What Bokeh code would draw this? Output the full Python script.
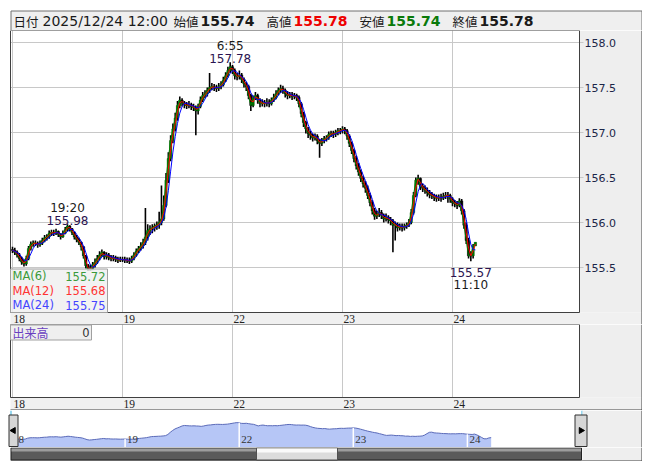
import numpy as np
import pandas as pd
from bokeh.plotting import figure
from bokeh.layouts import column
from bokeh.models import Range1d, ColumnDataSource
from bokeh.core.properties import value
from bokeh.embed import file_html
from bokeh.resources import INLINE

# ---------------- data (30-minute bars, 18th 7:00 -> 24th 12:00) ----------------
first_open = 155.70
close = [
    155.69, 155.67, 155.64, 155.60, 155.56, 155.54, 155.60, 155.71, 155.76, 155.77,
    155.77, 155.75, 155.77, 155.80, 155.83, 155.84, 155.88, 155.89, 155.88, 155.90,
    155.87, 155.84, 155.88, 155.92, 155.96, 155.93, 155.89, 155.84, 155.81, 155.78,
    155.73, 155.63, 155.52, 155.47, 155.49, 155.53, 155.56, 155.60, 155.64, 155.67,
    155.62, 155.64, 155.61, 155.60, 155.61, 155.59, 155.58, 155.59,
    155.59, 155.58, 155.58, 155.57, 155.60, 155.64, 155.68, 155.71, 155.74, 155.78,
    155.84, 155.91, 155.93, 155.94, 155.96, 155.97, 156.00, 156.04, 156.19, 156.47,
    156.71, 156.91, 157.04, 157.16, 157.30, 157.36, 157.33, 157.31, 157.30, 157.31,
    157.29, 157.28, 157.24, 157.29, 157.36, 157.41, 157.43, 157.47, 157.50, 157.51,
    157.50, 157.49, 157.51, 157.53, 157.58, 157.63, 157.69, 157.73,
    157.69, 157.63, 157.62, 157.64, 157.59, 157.54, 157.51, 157.41, 157.30, 157.38,
    157.41, 157.36, 157.32, 157.33, 157.32, 157.34, 157.32, 157.36, 157.39, 157.43,
    157.47, 157.49, 157.47, 157.43, 157.41, 157.42, 157.40, 157.41, 157.39, 157.32,
    157.21, 157.11, 157.04, 156.99, 156.97, 156.94, 156.96, 156.91, 156.88, 156.91,
    156.93, 156.94, 156.98, 156.99, 156.98, 157.00, 157.02, 157.02,
    157.04, 157.02, 156.96, 156.88, 156.80, 156.71, 156.63, 156.56, 156.49, 156.43,
    156.38, 156.30, 156.22, 156.13, 156.07, 156.09, 156.11, 156.08, 156.04, 156.06,
    156.03, 156.02, 155.97, 155.98, 155.94, 155.96, 155.94, 155.96, 155.97, 156.00,
    156.11, 156.30, 156.47, 156.49, 156.40, 156.38, 156.36, 156.33, 156.31, 156.30,
    156.28, 156.27, 156.28, 156.27, 156.29, 156.30, 156.30, 156.26,
    156.22, 156.21, 156.19, 156.24, 156.13, 155.97, 155.80, 155.63, 155.63, 155.74, 155.78,
]
high = [
    155.73, 155.72, 155.69, 155.66, 155.62, 155.59, 155.63, 155.74, 155.79, 155.80,
    155.80, 155.79, 155.80, 155.83, 155.86, 155.87, 155.91, 155.92, 155.92, 155.93,
    155.91, 155.88, 155.91, 155.95, 155.98, 155.97, 155.94, 155.90, 155.86, 155.83,
    155.79, 155.74, 155.64, 155.54, 155.53, 155.56, 155.60, 155.64, 155.68, 155.70,
    155.68, 155.67, 155.66, 155.64, 155.64, 155.63, 155.62, 155.62,
    155.62, 155.62, 155.61, 155.61, 155.63, 155.67, 155.71, 155.74, 155.78, 155.82,
    156.16, 155.98, 155.97, 155.98, 155.99, 156.01, 156.12, 156.41, 156.30, 156.55,
    156.78, 156.97, 157.10, 157.22, 157.35, 157.40, 157.38, 157.35, 157.34, 157.35,
    157.33, 157.32, 157.30, 157.32, 157.40, 157.45, 157.47, 157.50, 157.66, 157.55,
    157.54, 157.53, 157.55, 157.57, 157.62, 157.67, 157.73, 157.78,
    157.75, 157.71, 157.66, 157.69, 157.66, 157.61, 157.56, 157.53, 157.43, 157.41,
    157.45, 157.43, 157.38, 157.37, 157.36, 157.38, 157.37, 157.39, 157.43, 157.47,
    157.50, 157.53, 157.52, 157.49, 157.46, 157.45, 157.45, 157.44, 157.43, 157.41,
    157.34, 157.23, 157.13, 157.06, 157.02, 156.99, 156.99, 156.98, 156.93, 156.94,
    156.96, 156.97, 157.01, 157.02, 157.02, 157.03, 157.05, 157.05,
    157.07, 157.06, 157.04, 156.98, 156.90, 156.82, 156.74, 156.66, 156.59, 156.52,
    156.46, 156.41, 156.33, 156.25, 156.16, 156.13, 156.16, 156.14, 156.10, 156.10,
    156.08, 156.06, 156.04, 156.01, 156.00, 155.99, 155.99, 155.99, 156.00, 156.04,
    156.15, 156.34, 156.50, 156.53, 156.50, 156.43, 156.41, 156.39, 156.36, 156.34,
    156.32, 156.31, 156.31, 156.32, 156.33, 156.34, 156.34, 156.32,
    156.28, 156.25, 156.24, 156.27, 156.26, 156.15, 156.00, 155.83, 155.68, 155.76, 155.78,
]
low = [
    155.66, 155.64, 155.61, 155.57, 155.53, 155.51, 155.52, 155.58, 155.69, 155.73,
    155.74, 155.72, 155.73, 155.75, 155.78, 155.80, 155.82, 155.85, 155.85, 155.86,
    155.84, 155.81, 155.83, 155.87, 155.90, 155.90, 155.86, 155.81, 155.78, 155.75,
    155.69, 155.60, 155.49, 155.46, 155.46, 155.47, 155.50, 155.54, 155.58, 155.62,
    155.59, 155.59, 155.58, 155.57, 155.57, 155.56, 155.55, 155.56,
    155.56, 155.55, 155.55, 155.54, 155.55, 155.58, 155.62, 155.66, 155.69, 155.71,
    155.75, 155.80, 155.86, 155.88, 155.90, 155.92, 155.93, 155.97, 156.02, 156.17,
    156.44, 156.68, 156.88, 157.01, 157.13, 157.27, 157.29, 157.27, 157.26, 157.27,
    157.25, 157.24, 156.97, 157.20, 157.27, 157.34, 157.38, 157.40, 157.44, 157.47,
    157.46, 157.45, 157.46, 157.48, 157.51, 157.56, 157.61, 157.66,
    157.65, 157.59, 157.58, 157.59, 157.55, 157.50, 157.46, 157.37, 157.24, 157.28,
    157.36, 157.32, 157.28, 157.29, 157.28, 157.29, 157.28, 157.30, 157.34, 157.37,
    157.41, 157.44, 157.43, 157.39, 157.37, 157.38, 157.36, 157.37, 157.35, 157.28,
    157.17, 157.06, 156.99, 156.94, 156.92, 156.90, 156.91, 156.87, 156.72, 156.85,
    156.88, 156.90, 156.92, 156.95, 156.94, 156.95, 156.97, 156.98,
    156.99, 156.98, 156.92, 156.84, 156.76, 156.67, 156.59, 156.52, 156.45, 156.39,
    156.33, 156.26, 156.18, 156.09, 156.03, 156.04, 156.06, 156.04, 156.00, 156.01,
    155.99, 155.97, 155.67, 155.80, 155.90, 155.91, 155.90, 155.91, 155.93, 155.95,
    155.98, 156.09, 156.28, 156.42, 156.36, 156.34, 156.32, 156.29, 156.27, 156.26,
    156.24, 156.23, 156.24, 156.23, 156.25, 156.26, 156.22, 156.22,
    156.18, 156.17, 156.15, 156.17, 156.09, 155.93, 155.76, 155.60, 155.57, 155.60, 155.74,
]
bars_per_day = 48
day_ticks = [0, 1, 2, 3, 4]
day_labels = ["18", "19", "22", "23", "24"]
price_ticks = [155.5, 156.0, 156.5, 157.0, 157.5, 158.0]
ma_names = ["MA(6)", "MA(12)", "MA(24)"]
ma_windows = [1, 2, 4]          # in 30-minute bars
ma_values_text = ["155.72", "155.68", "155.75"]
header_date = "2025/12/24 12:00"
header_names = ["始値", "高値", "安値", "終値"]
marks = [("19:20", "high", 0), ("6:55", "high", 1), ("11:10", "low", 4)]
volume_name = "出来高"
volume_value = "0"

# ---------------- styles ----------------
LAT = "DejaVu Sans"
JP = "Noto Sans CJK JP"
SERIF = "Liberation Serif"
W = 642
GREY = "#eeeeee"
STRIP = "#f0f0f0"
GRID = "#c8c8c8"
FRAME = "#404040"
MA_COLORS = ["#008000", "#ff0000", "#0000ff"]
MA_TEXT = ["#3a9a3a", "#ff3333", "#4444ff"]

n = len(close)
t = np.arange(n) / bars_per_day
opn = [first_open] + close[:-1]


def base_fig(h, xr, yr):
    p = figure(width=W, height=h, x_range=xr, y_range=yr, toolbar_location=None,
               output_backend="svg", x_axis_location=None, y_axis_location=None)
    p.min_border_left = 0
    p.min_border_right = 0
    p.min_border_top = 0
    p.min_border_bottom = 0
    p.xgrid.visible = False
    p.ygrid.visible = False
    p.outline_line_color = None
    p.background_fill_color = "white"
    p.border_fill_color = "white"
    return p


def txt(p, x, y, s, font=LAT, size="12px", color="#1a1a1a", align="left",
        baseline="middle", style="normal", xo=0, yo=0):
    p.text(x=[x], y=[y], text=[s], text_font=value(font), text_font_size=size,
           text_color=color, text_align=align, text_baseline=baseline,
           text_font_style=style, x_offset=xo, y_offset=yo)


# ---------------- header (pixel-mapped) ----------------
hdr = base_fig(30, Range1d(0, W), Range1d(30, 0))
hdr.quad(left=10.5, right=641.5, top=10.5, bottom=30, fill_color="#efefef", line_color="#707070")
txt(hdr, 13, 20.5, "日付", font=JP, size="12.5px")
txt(hdr, 42, 20.5, header_date, size="14px")
vals = [opn[-1], high[-1], low[-1], close[-1]]
vcols = ["#1a1a1a", "#ee0000", "#0a7a0a", "#1a1a1a"]
name_x = [173, 266, 359, 452]
for nm, v, c, x in zip(header_names, vals, vcols, name_x):
    txt(hdr, x, 20.5, nm, font=JP, size="12.5px")
    txt(hdr, x + 27, 20.5, f"{v:.2f}", size="14px", color=c, style="bold")


# ---------------- main chart (frame 10..579 x 30..312, date strip to 324) ----------------
def t_main(px):
    return (px - 12) / 110.0


def v_main(py):
    return 158.0 - (py - 42) / 90.0


xr = Range1d(t_main(0), t_main(W))
main = base_fig(294, xr, Range1d(v_main(324), v_main(30)))
L, R = t_main(10), t_main(579)
TOP, BOT = v_main(30), v_main(312)
# right axis panel and date strip
main.quad(left=R, right=t_main(641.5), top=TOP, bottom=BOT, fill_color=GREY, line_color=None)
main.quad(left=L, right=t_main(641.5), top=BOT, bottom=v_main(324), fill_color=STRIP, line_color=None)
# grid lines (and small ticks into the axis panel)
main.segment(x0=L, x1=t_main(583), y0=price_ticks, y1=price_ticks, line_color=GRID, line_width=1)
main.segment(x0=day_ticks, x1=day_ticks, y0=BOT, y1=TOP, line_color=GRID, line_width=1)
# axis labels
main.text(x=t_main(584), y=price_ticks, text=[f"{v:.1f}" for v in price_ticks],
          text_font=value(LAT), text_font_size="11px", text_color="#1b2548",
          text_align="left", text_baseline="middle")
main.text(x=day_ticks, y=v_main(318.5), text=day_labels, text_font=value(SERIF),
          text_font_size="11.5px", text_color="#222222", text_align="left",
          text_baseline="middle", x_offset=1)

src = ColumnDataSource(dict(
    t=t, h=high, l=low,
    top=np.maximum(opn, close), bot=np.minimum(opn, close),
    col=["#006a00" if c > o else "#000000" for o, c in zip(opn, close)],
))
main.segment("t", "h", "t", "l", source=src, line_color="#000000", line_width=1.6)
main.vbar(x="t", width=1.0 / bars_per_day, top="top", bottom="bot", fill_color="col",
          line_color="col", line_width=0.5, source=src)
cs = pd.Series(close)
for w, c in zip(ma_windows, MA_COLORS):
    main.line(t, cs.rolling(w, min_periods=1).mean().values, line_color=c, line_width=1.0)

# frame outline
main.quad(left=L, right=R, top=TOP, bottom=BOT, fill_color=None, line_color=FRAME, line_width=1)
main.segment(x0=[L], x1=[t_main(641.5)], y0=[v_main(324)], y1=[v_main(324)], line_color=FRAME)
main.segment(x0=[t_main(641.5)], x1=[t_main(641.5)], y0=[v_main(324)], y1=[v_main(30)], line_color=FRAME)

# high / low markers
for tm, kind, day in marks:
    idx = [i for i in range(n) if i // bars_per_day == day]
    if kind == "high":
        j = max(idx, key=lambda i: high[i])
        y = high[j]
        txt(main, t[j], y, f"{y:.2f}", color="#2a1450", align="center", baseline="alphabetic", yo=-4)
        txt(main, t[j], y, tm, color="#1a1a1a", align="center", baseline="alphabetic", yo=-16.5)
    else:
        j = min(idx, key=lambda i: low[i])
        y = low[j]
        txt(main, t[j], y, f"{y:.2f}", color="#2a1450", align="center", baseline="alphabetic", yo=11.5)
        txt(main, t[j], y, tm, color="#1a1a1a", align="center", baseline="alphabetic", yo=23.5)

# MA legend box
main.quad(left=L, right=t_main(107), top=v_main(268.5), bottom=BOT,
          fill_color="#f0f0f0", fill_alpha=0.85, line_color="#a0a0a0")
for k, (nm, vt, c) in enumerate(zip(ma_names, ma_values_text, MA_TEXT)):
    yy = v_main(275.5 + 14.5 * k)
    txt(main, t_main(12), yy, nm, size="11.5px", color=c)
    txt(main, t_main(105), yy, vt, size="11.5px", color=c, align="right")

# ---------------- volume panel (pixel-mapped y, 324..397 + strip to 410) ----------------
vol = base_fig(86, xr, Range1d(410, 324))
vol.quad(left=R, right=t_main(641.5), top=324, bottom=397, fill_color=GREY, line_color=None)
vol.quad(left=L, right=t_main(641.5), top=397, bottom=410, fill_color=STRIP, line_color=None)
vol.segment(x0=day_ticks, x1=day_ticks, y0=397, y1=324, line_color=GRID, line_width=1)
vol.text(x=day_ticks, y=403.5, text=day_labels, text_font=value(SERIF),
         text_font_size="11.5px", text_color="#222222", text_align="left",
         text_baseline="middle", x_offset=1)
vol.quad(left=L, right=R, top=324, bottom=397, fill_color=None, line_color=FRAME)
vol.segment(x0=[L], x1=[t_main(641.5)], y0=[409.5], y1=[409.5], line_color=FRAME)
vol.segment(x0=[t_main(641.5)], x1=[t_main(641.5)], y0=[324], y1=[410], line_color=FRAME)
vol.quad(left=L, right=t_main(91), top=324.5, bottom=339.5,
         fill_color="#efefef", line_color="#a0a0a0")
txt(vol, t_main(12), 332, volume_name, font=JP, size="12px", color="#6a40c0")
txt(vol, t_main(89), 332, volume_value, size="11.5px", color="#333333", align="right")


# ---------------- navigator ----------------
def t_nav(px):
    return (px - 10.5) / 114.1


NAV_LO, NAV_HI = 154.5, 159.3


def v_nav(py):
    return NAV_HI - (py - 410) / 37.0 * (NAV_HI - NAV_LO)


nav = base_fig(37, Range1d(t_nav(0), t_nav(W)), Range1d(NAV_LO, NAV_HI))
nav.varea(x=t, y1=NAV_LO, y2=close, fill_color="#b6c6f6")
nav.line(t, close, line_color="#5a6ab8", line_width=1)
for d in day_ticks:
    i = d * bars_per_day
    nav.segment(x0=[d], y0=[NAV_LO], x1=[d], y1=[close[i]], line_color="white", line_width=1.5)
nav.text(x=day_ticks, y=v_nav(439), text=day_labels,
         text_font=value(SERIF), text_font_size="11px", text_color="#333333",
         text_align="left", text_baseline="middle", x_offset=2)
nav.segment(x0=[t_nav(10.5), t_nav(581.5)], y0=[v_nav(410), v_nav(410)],
            x1=[t_nav(10.5), t_nav(581.5)], y1=[v_nav(447), v_nav(447)],
            line_color="#30b0e0", line_width=1)
nav.quad(left=t_nav(582), right=t_nav(641.5), bottom=NAV_LO, top=NAV_HI, fill_color=GREY, line_color=None)
nav.segment(x0=[t_nav(641.5)], y0=[v_nav(410)], x1=[t_nav(641.5)], y1=[v_nav(447)], line_color=FRAME)
for lx, rx, ang in [(8.5, 17.5, np.pi / 2), (574.5, 586.5, -np.pi / 2)]:
    nav.quad(left=t_nav(lx), right=t_nav(rx), top=v_nav(414.5), bottom=v_nav(446),
             fill_color="#d6d6d6", line_color="#303030")
    nav.scatter(x=[t_nav((lx + rx) / 2)], y=[v_nav(430)], marker="triangle", angle=ang,
                size=6, fill_color="black", line_color="black")

# ---------------- scrollbar ----------------
sb = base_fig(14, Range1d(0, W), Range1d(461, 447))
sb.quad(left=582, right=641.5, top=447, bottom=460.5, fill_color=GREY, line_color=None)
sb.quad(left=10.5, right=581, top=447.5, bottom=459.5, fill_color="#5a5a5a", line_color="#202020")
sb.quad(left=11, right=580.5, top=448, bottom=451, fill_color="#9c9c9c", line_color=None)
sb.quad(left=256, right=337, top=447.5, bottom=459.5, fill_color="#dcdcdc", line_color="#505050")
sb.quad(left=256.5, right=336.5, top=448, bottom=452, fill_color="#fafafa", line_color=None)
sb.segment(x0=[10], y0=[460.5], x1=[642], y1=[460.5], line_color=FRAME)
sb.segment(x0=[641.5], y0=[447], x1=[641.5], y1=[461], line_color=FRAME)

layout = column(hdr, main, vol, nav, sb, spacing=0)
open("out.html", "w").write(file_html(layout, INLINE))
